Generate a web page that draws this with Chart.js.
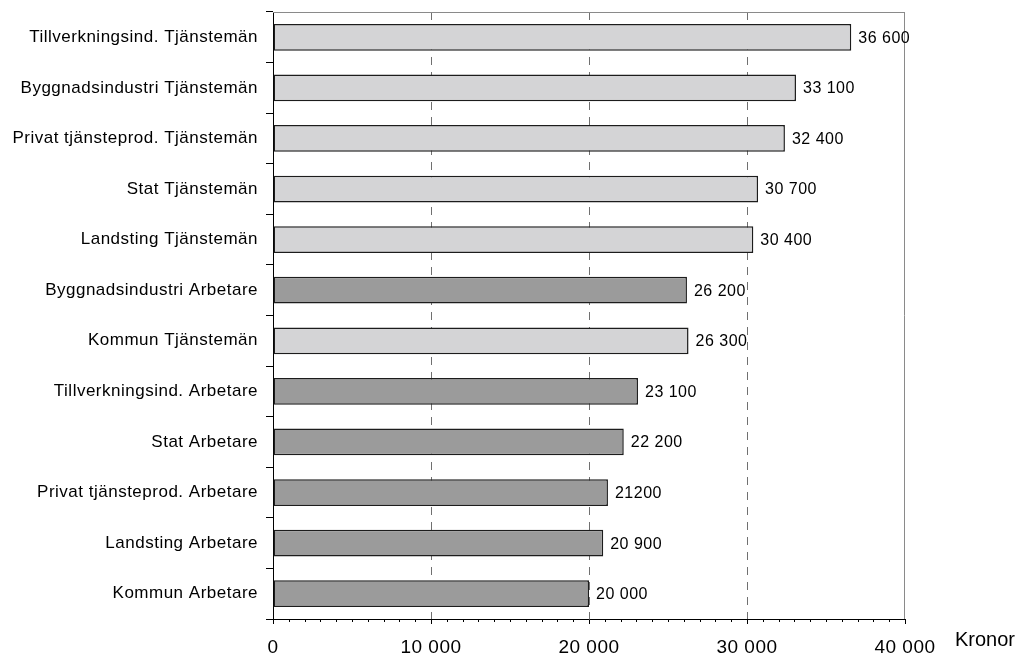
<!DOCTYPE html>
<html>
<head>
<meta charset="utf-8">
<script src="https://cdn.jsdelivr.net/npm/chart.js@4.4.0/dist/chart.umd.min.js"></script>
<style>
  html, body { margin: 0; padding: 0; background: #fff; }
  #wrap { width: 1019px; height: 657px; }
</style>
</head>
<body>
<div id="wrap"><canvas id="c" width="1019" height="657"></canvas></div>
<script>
const categories = [
  "Tillverkningsind. Tjänstemän",
  "Byggnadsindustri Tjänstemän",
  "Privat tjänsteprod. Tjänstemän",
  "Stat Tjänstemän",
  "Landsting Tjänstemän",
  "Byggnadsindustri Arbetare",
  "Kommun Tjänstemän",
  "Tillverkningsind. Arbetare",
  "Stat Arbetare",
  "Privat tjänsteprod. Arbetare",
  "Landsting Arbetare",
  "Kommun Arbetare"
];
const values = [36600, 33100, 32400, 30700, 30400, 26200, 26300, 23100, 22200, 21200, 20900, 20000];
const valueLabels = ["36 600", "33 100", "32 400", "30 700", "30 400", "26 200", "26 300", "23 100", "22 200", "21200", "20 900", "20 000"];
const xTicks = [0, 10000, 20000, 30000, 40000];
const xTickLabels = ["0", "10 000", "20 000", "30 000", "40 000"];
const axisTitle = "Kronor";

const FONT = '"Liberation Sans", Arial, sans-serif';
const barColors = categories.map(c => c.endsWith("Tjänstemän") ? "#d4d4d6" : "#9b9b9b");

const decor = {
  id: "decor",
  beforeDraw(chart) {
    chart.ctx.letterSpacing = "0.5px";
  },
  beforeDatasetsDraw(chart) {
    const ctx = chart.ctx, a = chart.chartArea, xs = chart.scales.x;
    ctx.save();
    ctx.strokeStyle = "#707070";
    ctx.lineWidth = 1;
    ctx.setLineDash([8, 7]);
    [10000, 20000, 30000].forEach(v => {
      const px = Math.round(xs.getPixelForValue(v)) + 0.5;
      ctx.beginPath();
      ctx.moveTo(px, a.top);
      ctx.lineTo(px, a.bottom);
      ctx.stroke();
    });
    ctx.setLineDash([]);
    ctx.strokeStyle = "#8a8a8a";
    ctx.beginPath();
    ctx.moveTo(a.left, a.top + 0.5);
    ctx.lineTo(a.right, a.top + 0.5);
    ctx.moveTo(Math.round(a.right) - 0.5, a.top);
    ctx.lineTo(Math.round(a.right) - 0.5, a.bottom);
    ctx.stroke();
    ctx.strokeStyle = "#000";
    for (let v = 1000; v < 40000; v += 1000) {
      if (v % 10000 === 0) continue;
      const px = Math.round(xs.getPixelForValue(v)) + 0.5;
      ctx.beginPath();
      ctx.moveTo(px, a.bottom);
      ctx.lineTo(px, a.bottom + 3);
      ctx.stroke();
    }
    ctx.restore();
  },
  afterDraw(chart) {
    const ctx = chart.ctx;
    const meta = chart.getDatasetMeta(0);
    ctx.save();
    ctx.fillStyle = "#000";
    ctx.font = "16px " + FONT;
    ctx.textAlign = "left";
    ctx.textBaseline = "middle";
    meta.data.forEach((bar, i) => {
      ctx.fillText(valueLabels[i], bar.x + 7, bar.y + 1);
    });
    ctx.letterSpacing = "0px";
    ctx.font = "20px " + FONT;
    ctx.fillText(axisTitle, 955, 640);
    ctx.restore();
  }
};

new Chart(document.getElementById("c"), {
  type: "bar",
  data: {
    labels: categories,
    datasets: [{
      data: values,
      backgroundColor: barColors,
      borderColor: "#1c1c1c",
      borderWidth: 1.5,
      borderSkipped: false,
      categoryPercentage: 1,
      barPercentage: 0.53
    }]
  },
  options: {
    indexAxis: "y",
    responsive: false,
    animation: false,
    layout: { padding: { top: 12, right: 114, left: 0, bottom: 0 } },
    plugins: { legend: { display: false }, tooltip: { enabled: false } },
    scales: {
      y: {
        type: "category",
        afterFit(s) { s.width = 273; s.paddingTop = 0; s.paddingBottom = 0; },
        grid: { display: true, drawOnChartArea: false, drawTicks: true, tickLength: 7, color: "#000", offset: true },
        border: { display: true, color: "#000", width: 1 },
        ticks: { color: "#000", font: { family: FONT, size: 17 }, padding: 8 }
      },
      x: {
        type: "linear",
        min: 0,
        max: 40000,
        afterFit(s) { s.height = 38; s.paddingLeft = 0; s.paddingRight = 0; },
        afterBuildTicks(s) { s.ticks = xTicks.map(v => ({ value: v })); },
        grid: { display: true, drawOnChartArea: false, drawTicks: true, tickLength: 5, color: "#000" },
        border: { display: true, color: "#000", width: 1 },
        ticks: {
          color: "#000",
          font: { family: FONT, size: 19 },
          padding: 12,
          maxRotation: 0,
          autoSkip: false,
          callback(v) { const i = xTicks.indexOf(v); return i >= 0 ? xTickLabels[i] : ""; }
        }
      }
    }
  },
  plugins: [decor]
});
</script>
</body>
</html>
